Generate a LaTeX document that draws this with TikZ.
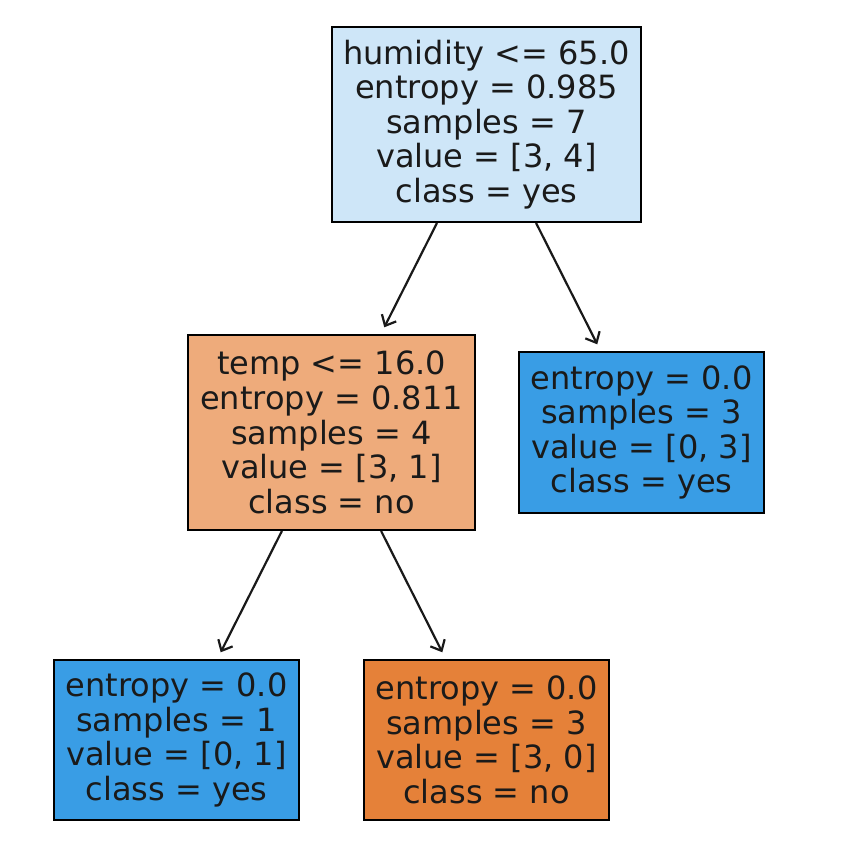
\documentclass[tikz,border=0pt]{standalone}
\usepackage{fontspec}
\setmainfont{DejaVu Sans}
\usetikzlibrary{arrows.meta}
\definecolor{rootc}{HTML}{CEE6F8}
\definecolor{leftc}{HTML}{EEAB7B}
\definecolor{bluec}{HTML}{399DE5}
\definecolor{orangec}{HTML}{E58139}
\definecolor{txt}{HTML}{1A1A1A}
\tikzset{
  treebox/.style={draw=black, line width=2pt, inner sep=0pt, align=center,
    font=\fontsize{32}{34.6}\selectfont, text=txt},
  edge/.style={draw=black!90, line width=2.2pt, -{Straight Barb[length=9pt,width=16pt,line width=2.2pt]}, shorten >=7.5pt}
}
\begin{document}
\begin{tikzpicture}[x=1pt,y=-1pt]
\useasboundingbox (0,0) rectangle (861,861);
\node[treebox, fill=rootc, minimum width=309pt, minimum height=195pt] (root) at (486.5,124.5)
  {humidity <= 65.0\\entropy = 0.985\\samples = 7\\value = [3, 4]\\class = yes};
\node[treebox, fill=leftc, minimum width=287pt, minimum height=195pt] (left) at (331.5,432.5)
  {temp <= 16.0\\entropy = 0.811\\samples = 4\\value = [3, 1]\\class = no};
\node[treebox, fill=bluec, minimum width=245pt, minimum height=161pt] (right) at (641.5,432.5)
  {entropy = 0.0\\samples = 3\\value = [0, 3]\\class = yes};
\node[treebox, fill=bluec, minimum width=245pt, minimum height=160pt] (bl) at (176.5,740)
  {entropy = 0.0\\samples = 1\\value = [0, 1]\\class = yes};
\node[treebox, fill=orangec, minimum width=245pt, minimum height=160pt] (bm) at (486.5,740)
  {entropy = 0.0\\samples = 3\\value = [3, 0]\\class = no};
\draw[edge] (root) -- (left);
\draw[edge] (root) -- (right);
\draw[edge] (left) -- (bl);
\draw[edge] (left) -- (bm);
\end{tikzpicture}
\end{document}
